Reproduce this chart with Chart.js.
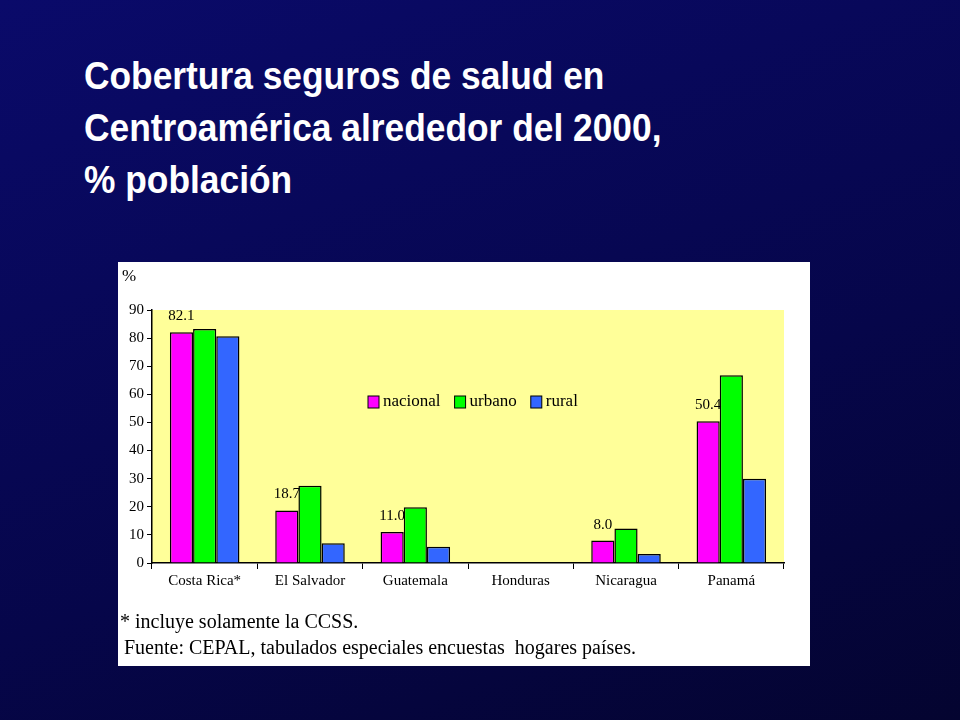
<!DOCTYPE html><html><head><meta charset="utf-8">
<script src="https://cdn.jsdelivr.net/npm/chart.js@4"></script>
<style>
body{margin:0;width:960px;height:720px;overflow:hidden;background:linear-gradient(160deg,#0a0a6a 0%,#06064a 60%,#040430 100%);position:relative;font-family:"Liberation Sans",Arial,sans-serif}
#t{position:absolute;left:84px;top:50px;color:#fff;font-weight:bold;font-size:38px;line-height:52px;transform:scaleX(0.93);transform-origin:left top;white-space:nowrap}
#p{position:absolute;left:118px;top:262px;width:692px;height:404px;background:#fff}
#c{position:absolute;left:0;top:0}
.f{position:absolute;font-family:"Liberation Serif",serif;font-size:20px;color:#000;white-space:nowrap}
</style></head><body>
<div id="t">Cobertura seguros de salud en<br>Centroamérica alrededor del 2000,<br>% población</div>
<div id="p"><canvas id="c" width="692" height="404"></canvas>
<div class="f" style="left:4px;top:4px;font-size:17px">%</div>
<div class="f" style="left:2px;top:348px">* incluye solamente la CCSS.</div>
<div class="f" style="left:6px;top:374px">Fuente: CEPAL, tabulados especiales encuestas&nbsp; hogares países.</div>
</div>
<script>
const categories=["Costa Rica*","El Salvador","Guatemala","Honduras","Nicaragua","Panamá"];
const nacional=[82.1,18.7,11.0,null,8.0,50.4];
const urbano=[83.2,27.5,19.8,null,12.3,66.8];
const rural=[80.7,7.0,5.8,null,3.2,30.0];
const yTicks=[0,10,20,30,40,50,60,70,80,90];
const F='"Liberation Serif",serif';
const plug={id:'p',
beforeDraw(c){const a=c.chartArea,x=c.ctx;x.save();x.fillStyle='#ffff99';x.fillRect(a.left,a.top,a.right-a.left,a.bottom-a.top);x.restore();},
afterDatasetsDraw(c){const x=c.ctx;x.save();x.font='15px '+F;x.fillStyle='#000';x.textAlign='center';
 const m=c.getDatasetMeta(0);m.data.forEach((b,i)=>{if(nacional[i]==null)return;x.fillText(nacional[i].toFixed(1),b.x,b.y-12);});
 const a=c.chartArea;let lx=250,ly=a.top+92;x.font='17px '+F;x.textAlign='left';x.textBaseline='middle';
 c.data.datasets.forEach(d=>{x.fillStyle=d.backgroundColor;x.fillRect(lx,ly-6,11,12);x.strokeStyle='#000';x.lineWidth=1;x.strokeRect(lx,ly-6,11,12);x.fillStyle='#000';x.fillText(d.label,lx+15,ly);lx+=15+x.measureText(d.label).width+14;});
 x.restore();}};
new Chart(document.getElementById('c'),{type:'bar',
data:{labels:categories,datasets:[
{label:'nacional',data:nacional,backgroundColor:'#ff00ff'},
{label:'urbano',data:urbano,backgroundColor:'#00ff00'},
{label:'rural',data:rural,backgroundColor:'#3366ff'}].map(d=>Object.assign(d,{borderColor:'#000',borderWidth:1.5,barPercentage:1,categoryPercentage:0.66}))},
options:{responsive:false,animation:false,layout:{padding:{top:48,right:26,bottom:75,left:0}},
plugins:{legend:{display:false},tooltip:{enabled:false}},
scales:{x:{grid:{offset:true,drawOnChartArea:false,color:'#000',tickLength:6},border:{color:'#000',width:1.5},ticks:{color:'#000',font:{family:F,size:15}},afterFit(s){s.height=28;}},
y:{min:0,max:90,afterBuildTicks(s){s.ticks=yTicks.map(v=>({value:v}));},grid:{drawOnChartArea:false,color:'#000',tickLength:5},border:{color:'#000',width:1.5},ticks:{color:'#000',font:{family:F,size:15},padding:3},afterFit(s){s.width=34;}}}},
plugins:[plug]});
</script></body></html>
